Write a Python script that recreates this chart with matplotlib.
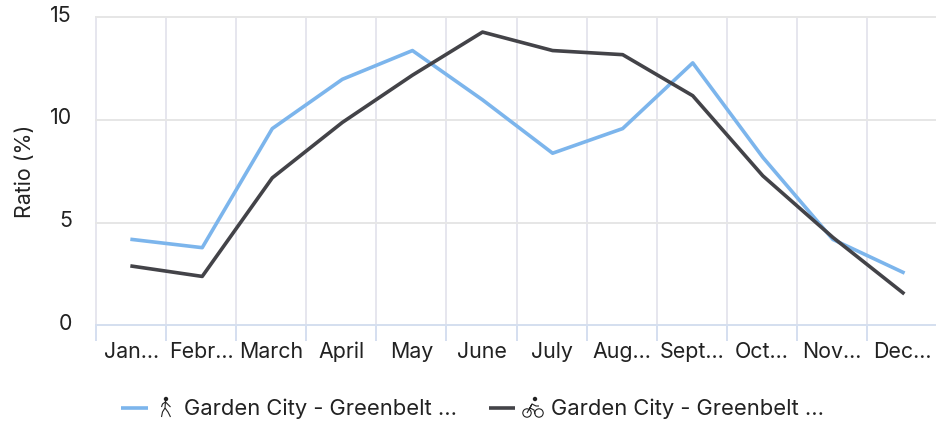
import matplotlib
matplotlib.use("Agg")
import matplotlib.pyplot as plt
from matplotlib.lines import Line2D
from matplotlib.patches import Circle
from matplotlib.transforms import ScaledTranslation

W, H = 937, 422

months = ["Jan...", "Febr...", "March", "April", "May", "June", "July",
          "Aug...", "Sept...", "Oct...", "Nov...", "Dec..."]
walk = [4.2, 3.8, 9.6, 12.0, 13.4, 11.0, 8.4, 9.6, 12.8, 8.2, 4.2, 2.6]
bike = [2.9, 2.4, 7.2, 9.9, 12.2, 14.3, 13.4, 13.2, 11.2, 7.3, 4.3, 1.6]
y_ticks = [0, 5, 10, 15]
legend_label = "Garden City - Greenbelt ..."

plt.rcParams['font.family'] = ['Inter', 'DejaVu Sans']
TEXT = "#222222"
BLUE = "#7cb5ec"
DARK = "#434348"
FS = 15.4

fig = plt.figure(figsize=(W / 100, H / 100), dpi=100)
ax = fig.add_axes([96.1 / W, 1 - 325.2 / H, (W - 96.1) / W, 308 / H])

x = [i + 0.5 for i in range(len(months))]
# lines sit about a pixel right of the cell centres and a touch lower
nudge = ScaledTranslation(1 / 100, -0.5 / 100, fig.dpi_scale_trans)
ax.plot(x, walk, color=BLUE, lw=2.6, solid_joinstyle="round", zorder=3, clip_on=False,
        transform=ax.transData + nudge)
ax.plot(x, bike, color=DARK, lw=2.6, solid_joinstyle="round", zorder=4, clip_on=False,
        transform=ax.transData + nudge)

ax.set_xlim(0, 12)
ax.set_ylim(0, 15)
ax.set_yticks(y_ticks)
ax.set_xticks(x)
ax.set_xticklabels(months)
ax.set_xticks(range(13), minor=True)
ax.grid(True, which="minor", axis="x", color="#e6e6ee", lw=1.4, clip_on=False)
ax.grid(True, which="major", axis="y", color="#e6e6e6", lw=1.4, clip_on=False)
ax.tick_params(axis="x", which="major", length=0, pad=12, labelsize=FS, labelcolor=TEXT)
ax.tick_params(axis="x", which="minor", length=11.5, width=1.4, color="#d5dff0")
ax.tick_params(axis="y", length=0, pad=17.5, labelsize=FS, labelcolor=TEXT)
# y labels sit a little above their gridlines
shift = ScaledTranslation(0, 2.5 / 72, fig.dpi_scale_trans)
for lab in ax.get_yticklabels():
    lab.set_transform(lab.get_transform() + shift)
ax.set_axisbelow(True)
for name in ["top", "right", "left"]:
    ax.spines[name].set_visible(False)
ax.spines["bottom"].set_color("#d5dff0")
ax.spines["bottom"].set_linewidth(1.4)


def fx(px):
    return px / W


def fy(py):
    return 1 - py / H


def stroke(xs, ys, color=TEXT, lw=0.8):
    fig.add_artist(Line2D([fx(v) for v in xs], [fy(v) for v in ys], color=color, lw=lw,
                          transform=fig.transFigure, solid_capstyle="butt"))


fig.text(25 / W, fy(171), "Ratio (%)", rotation=90, ha="center", va="center",
         fontsize=FS, color=TEXT)

# legend
stroke([121, 148], [408, 408], BLUE, 2.6)
stroke([489, 515], [408, 408], DARK, 2.6)
fig.text(184 / W, fy(408.5), legend_label, fontsize=FS + 0.4, color=TEXT, va="center")
fig.text(551 / W, fy(408.5), legend_label, fontsize=FS + 0.4, color=TEXT, va="center")

# walker icon
fig.add_artist(Circle((166, H - 399), 1.5, transform=None, color=TEXT))
stroke([165.5, 165, 162.5, 161.5], [401, 408, 412, 417])
stroke([165, 168, 170.5], [408, 412, 417])
stroke([165.5, 168.5, 170.5], [402, 405, 407])
stroke([165.5, 162.5, 161.5], [402, 404, 407])

# bike icon
fig.add_artist(Circle((527, H - 413), 4.2, transform=None, fill=False, ec=TEXT, lw=0.8))
fig.add_artist(Circle((539, H - 413), 4.2, transform=None, fill=False, ec=TEXT, lw=0.8))
fig.add_artist(Circle((535, H - 399), 1.5, transform=None, color=TEXT))
stroke([527, 532, 530, 534, 535], [413, 404, 408, 410, 414])
stroke([532, 536, 539], [404, 406, 406])

fig.savefig("out.png", dpi=100)
